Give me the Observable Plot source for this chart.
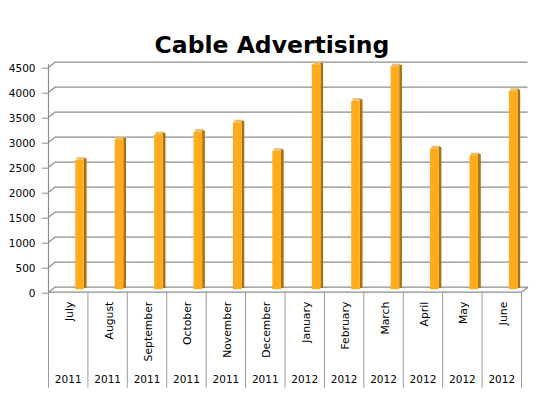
<!DOCTYPE html>
<html><head><meta charset="utf-8">
<script src="https://cdn.jsdelivr.net/npm/d3@7"></script>
<script src="https://cdn.jsdelivr.net/npm/@observablehq/plot@0.6"></script>
<style>body{margin:0;background:#fff} svg{display:block}</style>
</head><body><div id="chart"></div>
<script>
const title = "Cable Advertising";
const months = ["July","August","September","October","November","December","January","February","March","April","May","June"];
const years = ["2011","2011","2011","2011","2011","2011","2012","2012","2012","2012","2012","2012"];
const values = [2590,3000,3100,3150,3340,2770,4500,3770,4460,2820,2680,3970];
const yTicks = [0,500,1000,1500,2000,2500,3000,3500,4000,4500];

const data = months.map((m, i) => ({i, month: m, year: years[i], value: values[i]}));

const W = 551, H = 397;
const mL = 48, mR = 30, mT = 66.7, mB = 105.3;
const bw = (W - mL - mR) / 12;
const pxPerUnit = (H - mT - mB) / 4500;
const depthX = 6.5, depthY = 5;           // 3D depth offset (px)
const dXu = depthX / bw, dYu = depthY / pxPerUnit;
const grid = "#8c8c8c";
const front = "#FFAB1C", side = "#A8720F", topc = "#E7BF70";
const fL = 27.3, fW = 8.6, sW = 2.7;

const chart = Plot.plot({
  width: W, height: H,
  marginLeft: mL, marginRight: mR, marginTop: mT, marginBottom: mB,
  style: {fontFamily: "DejaVu Sans", fontSize: "10.5px", background: "#fff"},
  x: {type: "linear", domain: [0, 12]},
  y: {domain: [0, 4500], nice: false},
  marks: [
    Plot.ruleY(yTicks, {x1: 0, x2: 12, dx: depthX, dy: -depthY, stroke: grid, strokeWidth: 1.2}),
    Plot.link(yTicks, {x1: 0, y1: d => d, x2: dXu, y2: d => d + dYu, stroke: grid, strokeWidth: 1.2}),
    Plot.link([0], {x1: 12, y1: 0, x2: 12 + dXu, y2: dYu, stroke: grid, strokeWidth: 1.2}),
    Plot.ruleY([0], {x1: 0, x2: 12, stroke: grid, strokeWidth: 1.2}),
    Plot.ruleX([0], {y1: 0, y2: 4550, stroke: grid, strokeWidth: 1.2}),
    Plot.axisY(yTicks, {tickSize: 6, tickPadding: 7, tickFormat: d => String(d), stroke: grid, fill: "#000", fontSize: 10.5, dy: 1}),
    Plot.axisX(d3.range(13), {tickSize: 96, tickFormat: () => "", stroke: "#9a9a9a"}),
    Plot.rectY(data, {x1: d => d.i, x2: d => d.i + 1, y1: d => d.value, y2: d => d.value + 2.5 / pxPerUnit,
      insetLeft: fL, insetRight: bw - fL - fW, dx: sW / 2, dy: -2.5, fill: topc}),
    Plot.rectY(data, {x1: d => d.i, x2: d => d.i + 1, y1: 0, y2: d => d.value,
      insetLeft: fL + fW, insetRight: bw - fL - fW - sW, dy: -3.75, fill: side}),
    Plot.rectY(data, {x1: d => d.i, x2: d => d.i + 1, y1: 0, y2: d => d.value,
      insetLeft: fL, insetRight: bw - fL - fW, dy: -2.5, fill: front}),
    Plot.text(data, {x: d => d.i + 0.5, frameAnchor: "bottom", text: "month", rotate: -90, textAnchor: "end",
      lineAnchor: "middle", dx: 1.5, dy: 9.5, fontSize: 10.8, fill: "#000"}),
    Plot.text(data, {x: d => d.i + 0.5, frameAnchor: "bottom", text: "year", lineAnchor: "middle", dy: 87.3, fontSize: 10.5, fill: "#000"}),
    Plot.text([title], {text: d => d, frameAnchor: "top", lineAnchor: "middle", dx: -13, dy: -21.7, fontSize: 23.5, fontWeight: "bold", fill: "#000"})
  ]
});
document.getElementById("chart").appendChild(chart);
</script>
</body></html>
